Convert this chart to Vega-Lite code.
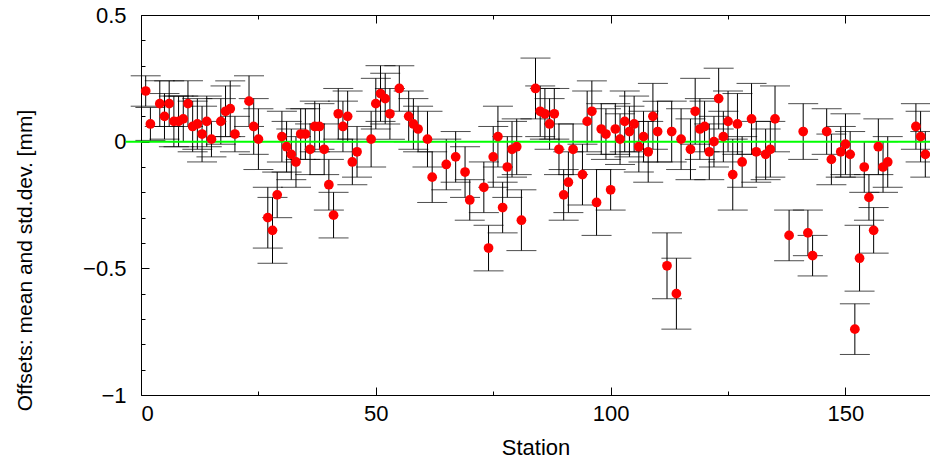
{
  "$schema": "https://vega.github.io/schema/vega-lite/v6.json",
  "width": 789,
  "height": 380,
  "autosize": {"type": "none"},
  "padding": {"left": 141, "top": 15, "right": 0, "bottom": 64},
  "background": "white",
  "config": {
    "view": {"stroke": null},
    "axis": {
      "labelFont": "Liberation Sans",
      "titleFont": "Liberation Sans",
      "labelFontSize": 22,
      "titleFontSize": 22,
      "titleFontWeight": "normal",
      "labelColor": "black",
      "titleColor": "black",
      "domainColor": "black",
      "tickColor": "black",
      "domainWidth": 1,
      "tickWidth": 1,
      "grid": false
    }
  },
  "datasets": {
    "pts": [
      {"s": 1, "m": 0.20, "e": 0.06},
      {"s": 2, "m": 0.07, "e": 0.065},
      {"s": 4, "m": 0.15, "e": 0.09},
      {"s": 5, "m": 0.10, "e": 0.09},
      {"s": 6, "m": 0.15, "e": 0.09},
      {"s": 7, "m": 0.08, "e": 0.10},
      {"s": 8, "m": 0.08, "e": 0.10},
      {"s": 9, "m": 0.09, "e": 0.09},
      {"s": 10, "m": 0.15, "e": 0.09},
      {"s": 11, "m": 0.06, "e": 0.10},
      {"s": 12, "m": 0.07, "e": 0.10},
      {"s": 13, "m": 0.03, "e": 0.11},
      {"s": 14, "m": 0.08, "e": 0.10},
      {"s": 15, "m": 0.01, "e": 0.07},
      {"s": 17, "m": 0.08, "e": 0.09},
      {"s": 18, "m": 0.12, "e": 0.10},
      {"s": 19, "m": 0.13, "e": 0.11},
      {"s": 20, "m": 0.03, "e": 0.07},
      {"s": 23, "m": 0.16, "e": 0.10},
      {"s": 24, "m": 0.06, "e": 0.11},
      {"s": 25, "m": 0.01, "e": 0.12},
      {"s": 27, "m": -0.30, "e": 0.12},
      {"s": 28, "m": -0.35, "e": 0.13},
      {"s": 29, "m": -0.21, "e": 0.09},
      {"s": 30, "m": 0.02, "e": 0.10},
      {"s": 31, "m": -0.02, "e": 0.10},
      {"s": 32, "m": -0.05, "e": 0.10},
      {"s": 33, "m": -0.08, "e": 0.10},
      {"s": 34, "m": 0.03, "e": 0.10},
      {"s": 35, "m": 0.03, "e": 0.10},
      {"s": 36, "m": -0.03, "e": 0.10},
      {"s": 37, "m": 0.06, "e": 0.10},
      {"s": 38, "m": 0.06, "e": 0.09},
      {"s": 39, "m": -0.03, "e": 0.10},
      {"s": 40, "m": -0.17, "e": 0.10},
      {"s": 41, "m": -0.29, "e": 0.09},
      {"s": 42, "m": 0.11, "e": 0.10},
      {"s": 43, "m": 0.06, "e": 0.10},
      {"s": 44, "m": 0.10, "e": 0.10},
      {"s": 45, "m": -0.08, "e": 0.09},
      {"s": 46, "m": -0.04, "e": 0.10},
      {"s": 49, "m": 0.01, "e": 0.11},
      {"s": 50, "m": 0.15, "e": 0.10},
      {"s": 51, "m": 0.19, "e": 0.11},
      {"s": 52, "m": 0.17, "e": 0.10},
      {"s": 53, "m": 0.11, "e": 0.10},
      {"s": 55, "m": 0.21, "e": 0.09},
      {"s": 57, "m": 0.10, "e": 0.10},
      {"s": 58, "m": 0.07, "e": 0.10},
      {"s": 59, "m": 0.05, "e": 0.09},
      {"s": 61, "m": 0.01, "e": 0.11},
      {"s": 62, "m": -0.14, "e": 0.10},
      {"s": 65, "m": -0.09, "e": 0.10},
      {"s": 67, "m": -0.06, "e": 0.10},
      {"s": 69, "m": -0.12, "e": 0.10},
      {"s": 70, "m": -0.23, "e": 0.08},
      {"s": 73, "m": -0.18, "e": 0.10},
      {"s": 74, "m": -0.42, "e": 0.09},
      {"s": 75, "m": -0.06, "e": 0.12},
      {"s": 76, "m": 0.02, "e": 0.12},
      {"s": 77, "m": -0.26, "e": 0.10},
      {"s": 78, "m": -0.10, "e": 0.12},
      {"s": 79, "m": -0.03, "e": 0.11},
      {"s": 80, "m": -0.02, "e": 0.11},
      {"s": 81, "m": -0.31, "e": 0.12},
      {"s": 84, "m": 0.21, "e": 0.12},
      {"s": 85, "m": 0.12, "e": 0.10},
      {"s": 86, "m": 0.11, "e": 0.10},
      {"s": 87, "m": 0.07, "e": 0.10},
      {"s": 88, "m": 0.11, "e": 0.10},
      {"s": 89, "m": -0.03, "e": 0.10},
      {"s": 90, "m": -0.21, "e": 0.10},
      {"s": 91, "m": -0.16, "e": 0.12},
      {"s": 92, "m": -0.03, "e": 0.10},
      {"s": 94, "m": -0.13, "e": 0.12},
      {"s": 95, "m": 0.08, "e": 0.12},
      {"s": 96, "m": 0.12, "e": 0.12},
      {"s": 97, "m": -0.24, "e": 0.13},
      {"s": 98, "m": 0.05, "e": 0.10},
      {"s": 99, "m": 0.03, "e": 0.10},
      {"s": 100, "m": -0.19, "e": 0.08},
      {"s": 101, "m": 0.05, "e": 0.10},
      {"s": 102, "m": 0.01, "e": 0.10},
      {"s": 103, "m": 0.08, "e": 0.12},
      {"s": 104, "m": 0.04, "e": 0.10},
      {"s": 105, "m": 0.07, "e": 0.11},
      {"s": 106, "m": -0.02, "e": 0.10},
      {"s": 107, "m": 0.02, "e": 0.10},
      {"s": 108, "m": -0.04, "e": 0.12},
      {"s": 109, "m": 0.10, "e": 0.13},
      {"s": 110, "m": 0.04, "e": 0.12},
      {"s": 112, "m": -0.49, "e": 0.13},
      {"s": 113, "m": 0.04, "e": 0.12},
      {"s": 114, "m": -0.60, "e": 0.14},
      {"s": 115, "m": 0.01, "e": 0.12},
      {"s": 117, "m": -0.03, "e": 0.12},
      {"s": 118, "m": 0.12, "e": 0.13},
      {"s": 119, "m": 0.05, "e": 0.12},
      {"s": 120, "m": 0.06, "e": 0.10},
      {"s": 121, "m": -0.04, "e": 0.11},
      {"s": 122, "m": 0.00, "e": 0.10},
      {"s": 123, "m": 0.17, "e": 0.12},
      {"s": 124, "m": 0.02, "e": 0.10},
      {"s": 125, "m": 0.08, "e": 0.12},
      {"s": 126, "m": -0.13, "e": 0.14},
      {"s": 127, "m": 0.07, "e": 0.12},
      {"s": 128, "m": -0.08, "e": 0.10},
      {"s": 130, "m": 0.09, "e": 0.14},
      {"s": 131, "m": -0.04, "e": 0.12},
      {"s": 133, "m": -0.05, "e": 0.10},
      {"s": 134, "m": -0.03, "e": 0.11},
      {"s": 135, "m": 0.09, "e": 0.13},
      {"s": 138, "m": -0.37, "e": 0.10},
      {"s": 141, "m": 0.04, "e": 0.11},
      {"s": 142, "m": -0.36, "e": 0.09},
      {"s": 143, "m": -0.45, "e": 0.08},
      {"s": 146, "m": 0.04, "e": 0.09},
      {"s": 147, "m": -0.07, "e": 0.10},
      {"s": 149, "m": -0.04, "e": 0.10},
      {"s": 150, "m": -0.01, "e": 0.12},
      {"s": 151, "m": -0.05, "e": 0.09},
      {"s": 152, "m": -0.74, "e": 0.10},
      {"s": 153, "m": -0.46, "e": 0.13},
      {"s": 154, "m": -0.10, "e": 0.10},
      {"s": 155, "m": -0.22, "e": 0.09},
      {"s": 156, "m": -0.35, "e": 0.09},
      {"s": 157, "m": -0.02, "e": 0.11},
      {"s": 158, "m": -0.10, "e": 0.10},
      {"s": 159, "m": -0.08, "e": 0.10},
      {"s": 165, "m": 0.06, "e": 0.09},
      {"s": 166, "m": 0.02, "e": 0.10},
      {"s": 167, "m": -0.05, "e": 0.09}
    ],
    "zero": [{"xa": -3.3, "xb": 170, "y": 0}]
  },
  "resolve": {"axis": {"x": "independent", "y": "independent"}},
  "layer": [
    {
      "data": {"name": "pts"},
      "mark": {
        "type": "errorbar",
        "color": "black",
        "ticks": {"size": 30, "thickness": 1, "color": "black"},
        "rule": {"strokeWidth": 1, "color": "black"}
      },
      "encoding": {
        "x": {
          "field": "s", "type": "quantitative",
          "scale": {"domain": [0, 168], "nice": false, "zero": false},
          "axis": {
            "orient": "bottom", "values": [0, 50, 100, 150], "tickSize": -8,
            "labelPadding": 16, "format": "d", "title": "Station", "titleFontSize": 22,
            "titleX": 394.5, "titleY": 59, "titleBaseline": "alphabetic", "titleAlign": "center"
          }
        },
        "y": {
          "field": "m", "type": "quantitative",
          "scale": {"domain": [-1, 0.5], "nice": false, "zero": false},
          "axis": {
            "orient": "left", "values": [-1, -0.5, 0, 0.5], "tickSize": -8,
            "labelPadding": 23, "format": "~g", "title": "Offsets: mean and std.dev. [mm]", "titleFontSize": 21,
            "titleX": -109.5, "titleY": 245, "titleAngle": -90, "titleBaseline": "alphabetic", "titleAlign": "center"
          }
        },
        "yError": {"field": "e"}
      }
    },
    {
      "data": {"name": "zero"},
      "mark": {"type": "rule", "color": "#00ff00", "strokeWidth": 2, "clip": false},
      "encoding": {
        "x": {
          "field": "xa", "type": "quantitative",
          "scale": {"domain": [0, 168], "nice": false, "zero": false},
          "axis": {"orient": "bottom", "values": [25, 75, 125], "tickSize": -4, "labels": false, "domain": false, "title": null}
        },
        "x2": {"field": "xb"},
        "y": {
          "field": "y", "type": "quantitative",
          "scale": {"domain": [-1, 0.5], "nice": false, "zero": false},
          "axis": {"orient": "left", "values": [-0.9, -0.8, -0.7, -0.6, -0.4, -0.3, -0.2, -0.1, 0.1, 0.2, 0.3, 0.4], "tickSize": -4, "labels": false, "domain": false, "title": null}
        }
      }
    },
    {
      "data": {"name": "pts"},
      "mark": {"type": "circle", "color": "#ff0000", "size": 95, "opacity": 1},
      "encoding": {
        "x": {
          "field": "s", "type": "quantitative",
          "scale": {"domain": [0, 168], "nice": false, "zero": false},
          "axis": {"orient": "top", "values": [0, 50, 100, 150], "tickSize": -8, "labels": false, "domain": true, "title": null}
        },
        "y": {
          "field": "m", "type": "quantitative",
          "scale": {"domain": [-1, 0.5], "nice": false, "zero": false},
          "axis": null
        }
      }
    },
    {
      "data": {"name": "pts"},
      "mark": {"type": "circle", "opacity": 0},
      "encoding": {
        "x": {
          "field": "s", "type": "quantitative",
          "scale": {"domain": [0, 168], "nice": false, "zero": false},
          "axis": {"orient": "top", "values": [25, 75, 125], "tickSize": -4, "labels": false, "domain": false, "title": null}
        },
        "y": {
          "field": "m", "type": "quantitative",
          "scale": {"domain": [-1, 0.5], "nice": false, "zero": false},
          "axis": null
        }
      }
    }
  ]
}
